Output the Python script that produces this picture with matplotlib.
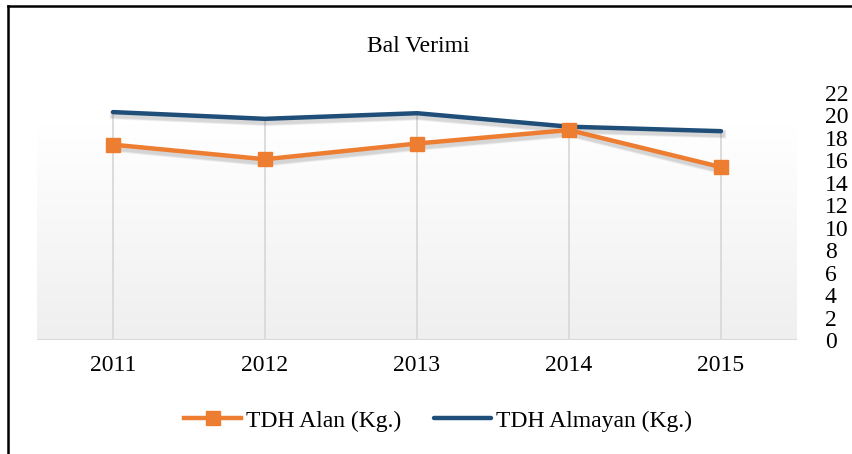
import matplotlib.pyplot as plt
import matplotlib.patheffects as pe
import numpy as np
from matplotlib.colors import LinearSegmentedColormap
from matplotlib.lines import Line2D

plt.rcParams["font.family"] = ["Liberation Serif", "DejaVu Serif"]

years = ["2011", "2012", "2013", "2014", "2015"]
tdh_alan = [17.4, 16.1, 17.5, 18.7, 15.4]
tdh_almayan = [20.3, 19.7, 20.2, 19.0, 18.6]
y_ticks = list(range(0, 23, 2))

ORANGE = "#ED7D31"
BLUE = "#1F4E79"
GRID = "#d9d9d9"

fig = plt.figure(figsize=(8.52, 4.54), dpi=100)
ax = fig.add_axes([37 / 852, 1 - 340 / 454, 760 / 852, 247 / 454])

x = np.arange(len(years))
ax.set_xlim(-0.5, len(years) - 0.5)
ax.set_ylim(0, 22)

# plot-area gradient (white at top -> light grey at bottom)
grad = np.linspace(1.0, 0.0, 256).reshape(-1, 1)
top_frac = (340 - 125) / (340 - 93)
bg_cmap = LinearSegmentedColormap.from_list("bg", ["#efefef", "#ffffff"])
ax.imshow(grad, cmap=bg_cmap, aspect="auto",
          extent=[0, 1, 0, top_frac], transform=ax.transAxes, zorder=0)

# drop lines from the highest point to the axis
tops = np.maximum(tdh_alan, tdh_almayan)
ax.vlines(x, 0, tops, color=GRID, lw=1.3, zorder=1)
ax.axhline(0, color=GRID, lw=1.5, zorder=1)

# soft shadows under the lines
for series in (tdh_almayan, tdh_alan):
    for k, a in ((1, 0.10), (2, 0.10), (3, 0.08)):
        ax.plot(x, series, color="#666666", lw=3.2 + k, alpha=a,
                path_effects=[pe.withStroke(linewidth=0)], zorder=2,
                transform=ax.transData + plt.matplotlib.transforms.ScaledTranslation(
                    1 / 100, -3 / 100, fig.dpi_scale_trans))

ax.plot(x, tdh_almayan, color=BLUE, lw=3.2, solid_capstyle="round",
        label="TDH Almayan (Kg.)", zorder=3)
ax.plot(x, tdh_alan, color=ORANGE, lw=3.2, marker="s", markersize=10,
        label="TDH Alan (Kg.)", zorder=4)

for side in ["top", "left", "right", "bottom"]:
    ax.spines[side].set_visible(False)

ax.set_xticks(x, years)
ax.set_yticks(y_ticks)
ax.yaxis.tick_right()
ax.tick_params(axis="both", length=0, labelsize=17)
ax.tick_params(axis="x", pad=11)
ax.tick_params(axis="y", pad=20)
for lbl in ax.get_yticklabels():
    lbl.set_horizontalalignment("left")

fig.text(418 / 852, 1 - 47 / 454, "Bal Verimi", ha="center", va="center", fontsize=17)

handles, labels = ax.get_legend_handles_labels()
fig.legend(handles[::-1], labels[::-1], loc="center", ncol=2,
           bbox_to_anchor=(438 / 852, 1 - 421 / 454), frameon=False,
           fontsize=17, handlelength=2.4, handletextpad=0.2, columnspacing=1.4)

# partial frame (top and left edges)
fig.add_artist(Line2D([8 / 852, 8 / 852], [0, 1 - 6 / 454], color="black", lw=1.8,
                      transform=fig.transFigure))
fig.add_artist(Line2D([8 / 852, 1], [1 - 6 / 454, 1 - 6 / 454], color="black", lw=1.8,
                      transform=fig.transFigure))

fig.savefig("out.png", dpi=100)
